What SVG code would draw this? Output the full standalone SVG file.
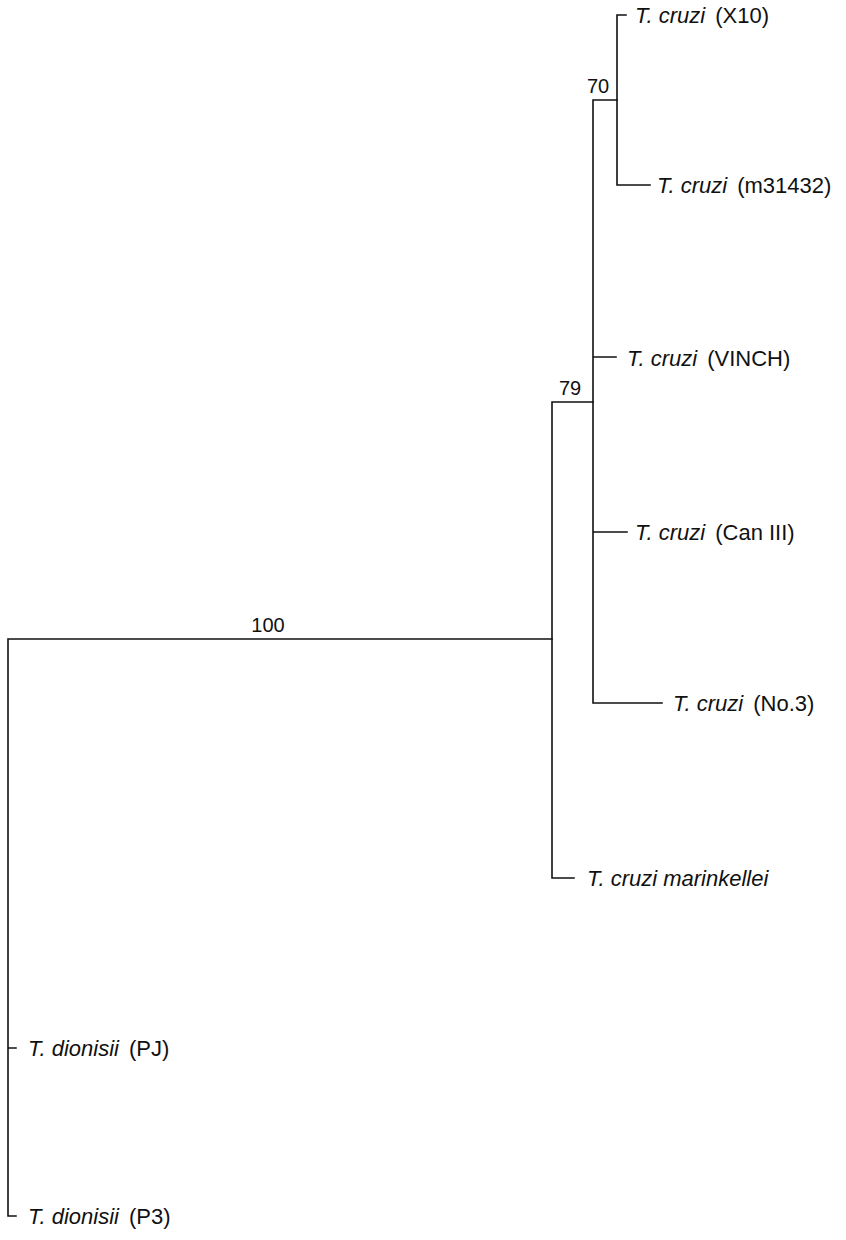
<svg xmlns="http://www.w3.org/2000/svg" width="846" height="1240" viewBox="0 0 846 1240">
<style>
.e{stroke:#111;stroke-width:1.6;fill:none;stroke-linecap:square}
.t{font-family:"Liberation Sans",Arial,sans-serif;font-size:22px;fill:#111}
.i{font-style:italic}
.b{font-family:"Liberation Sans",Arial,sans-serif;font-size:20px;fill:#111}
</style>
<rect width="846" height="1240" fill="#fff"/>
<g id="connectors">
<path class="e" d="M8,639 H552 M8,639 V1216 H16 M8,1048 H16"/>
<path class="e" d="M552,402 H593 M552,402 V878 H574"/>
<path class="e" d="M593,100 H617 M593,100 V703 H662 M593,357 H616 M593,532 H627"/>
<path class="e" d="M617,15 H626 M617,15 V185 H650"/>
</g>
<g id="support">
<text class="b" x="268" y="632" text-anchor="middle">100</text>
<text class="b" x="570" y="395" text-anchor="middle">79</text>
<text class="b" x="598" y="93" text-anchor="middle">70</text>
</g>
<g id="X10"><text class="t" x="635" y="23"><tspan class="i">T. cruzi</tspan><tspan dx="4"> (X10)</tspan></text></g>
<g id="m31432"><text class="t" x="657" y="193"><tspan class="i">T. cruzi</tspan><tspan dx="4"> (m31432)</tspan></text></g>
<g id="VINCH"><text class="t" x="627" y="366"><tspan class="i">T. cruzi</tspan><tspan dx="4"> (VINCH)</tspan></text></g>
<g id="CanIII"><text class="t" x="635" y="540"><tspan class="i">T. cruzi</tspan><tspan dx="4"> (Can III)</tspan></text></g>
<g id="No3"><text class="t" x="673" y="711"><tspan class="i">T. cruzi</tspan><tspan dx="4"> (No.3)</tspan></text></g>
<g id="marinkellei"><text class="t i" x="587" y="886">T. cruzi marinkellei</text></g>
<g id="PJ"><text class="t" x="28" y="1056"><tspan class="i">T. dionisii</tspan><tspan dx="4"> (PJ)</tspan></text></g>
<g id="P3"><text class="t" x="28" y="1224"><tspan class="i">T. dionisii</tspan><tspan dx="4"> (P3)</tspan></text></g>
</svg>
